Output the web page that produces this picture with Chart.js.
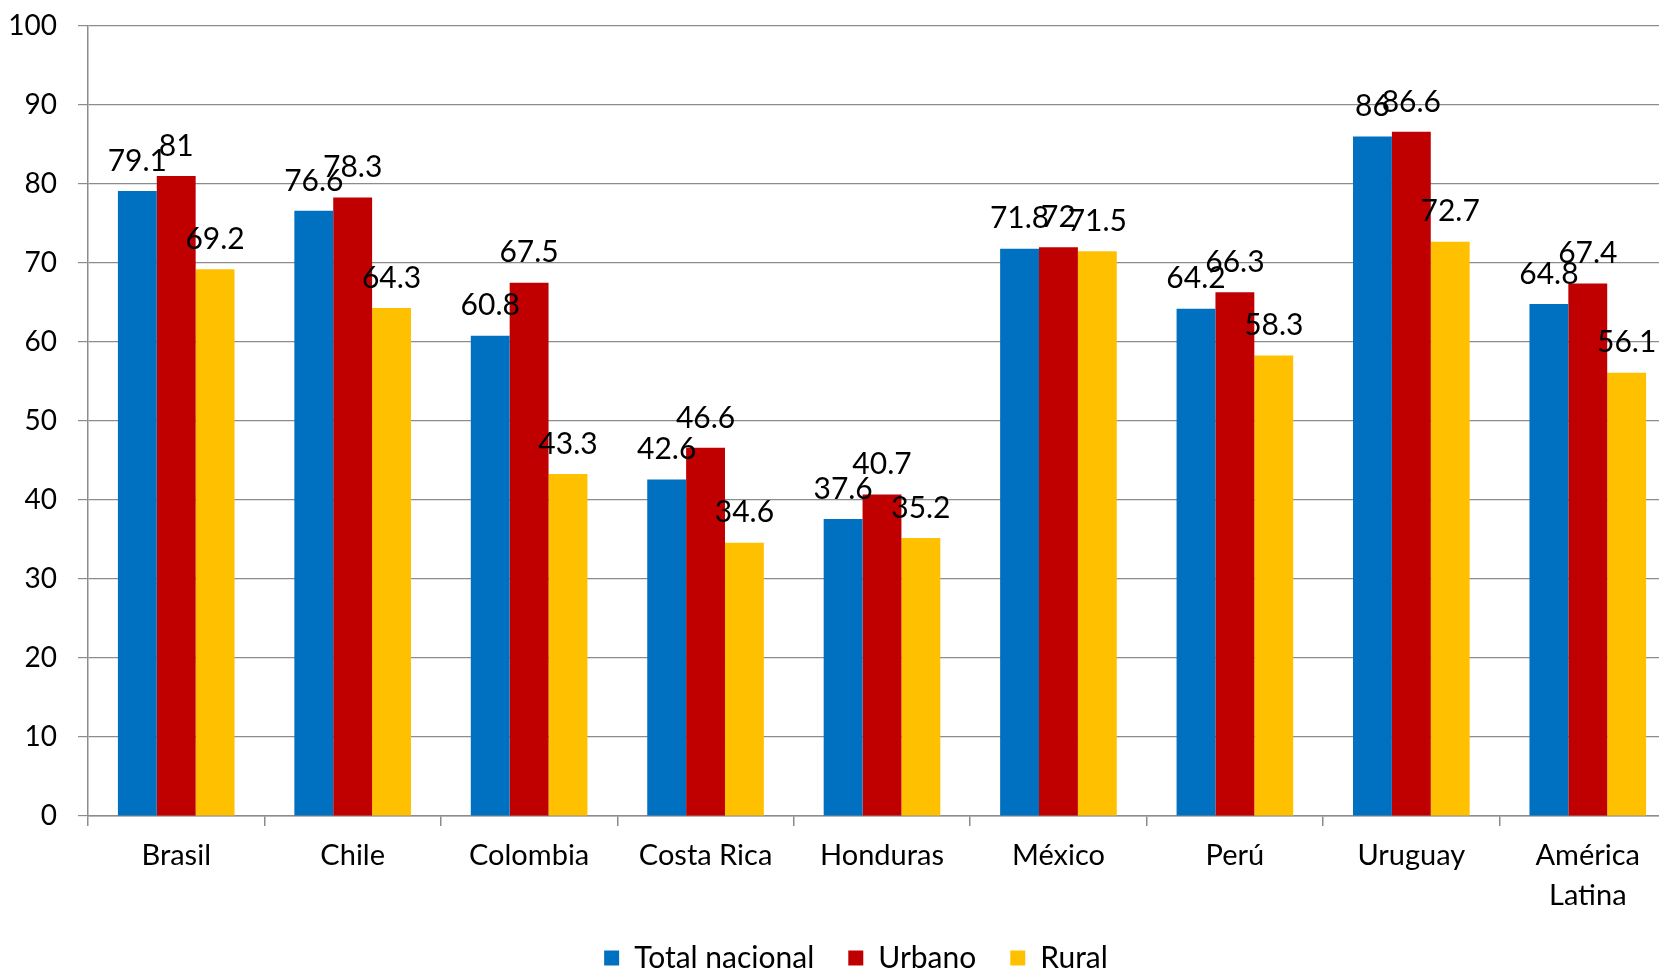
<!DOCTYPE html>
<html>
<head>
<meta charset="utf-8">
<script src="https://cdn.jsdelivr.net/npm/chart.js@4/dist/chart.umd.min.js"></script>
<style>
html,body{margin:0;padding:0;background:#fff;overflow:hidden;}
#wrap{width:1659px;height:971px;overflow:hidden;position:relative;}
canvas{display:block;}
</style>
</head>
<body>
<div id="wrap"><canvas id="c" width="1680" height="971"></canvas></div>
<script>
const categories = ["Brasil","Chile","Colombia","Costa Rica","Honduras","México","Perú","Uruguay",["América","Latina"]];
const totalNacional = [79.1, 76.6, 60.8, 42.6, 37.6, 71.8, 64.2, 86, 64.8];
const urbano = [81, 78.3, 67.5, 46.6, 40.7, 72, 66.3, 86.6, 67.4];
const rural = [69.2, 64.3, 43.3, 34.6, 35.2, 71.5, 58.3, 72.7, 56.1];
const seriesNames = ["Total nacional","Urbano","Rural"];

const FONT = "Lato, 'Open Sans', sans-serif";
const gridColor = "#8c8c8c";

const labelPlugin = {
  id: 'barLabels',
  afterDatasetsDraw(chart) {
    const ctx = chart.ctx;
    ctx.save();
    ctx.font = "30px " + FONT;
    ctx.fillStyle = "#000";
    ctx.textAlign = "center";
    ctx.textBaseline = "middle";
    chart.data.datasets.forEach((ds, di) => {
      const meta = chart.getDatasetMeta(di);
      meta.data.forEach((bar, i) => {
        ctx.fillText(String(ds.data[i]), bar.x, bar.y - 30);
      });
    });
    ctx.restore();
  }
};

const legendShift = {
  id: 'legendShift',
  afterLayout(chart) {
    const lg = chart.legend;
    if (!lg) return;
    const target = 856;
    const cur = (lg.left + lg.right) / 2;
    const s = target - cur;
    lg.left += s; lg.right += s;
    if (lg.legendHitBoxes) lg.legendHitBoxes.forEach(h => { h.left += s; });
  }
};

new Chart(document.getElementById('c'), {
  type: 'bar',
  data: {
    labels: categories,
    datasets: [
      {label: seriesNames[0], data: totalNacional, backgroundColor: "#0070C0"},
      {label: seriesNames[1], data: urbano, backgroundColor: "#C00000"},
      {label: seriesNames[2], data: rural, backgroundColor: "#FFC000"}
    ]
  },
  options: {
    responsive: false,
    animation: false,
    devicePixelRatio: 1,
    layout: {padding: {top: 26, right: 4, left: 0, bottom: -12}},
    datasets: {bar: {categoryPercentage: 0.661, barPercentage: 1.0, borderWidth: 0}},
    scales: {
      x: {
        grid: {display: true, drawOnChartArea: false, drawTicks: true, tickLength: 10, color: gridColor, lineWidth: 1.5},
        border: {display: true, color: gridColor, width: 1.5},
        ticks: {color: "#000", font: {family: FONT, size: 29, lineHeight: 1.38}, padding: 10, maxRotation: 0, autoSkip: false},
        afterFit(scale) { scale.height = 93; scale.paddingLeft = 0; scale.paddingRight = 0; }
      },
      y: {
        min: 0, max: 100,
        grid: {display: true, drawOnChartArea: true, drawTicks: true, tickLength: 10, color: gridColor, lineWidth: 1.2},
        border: {display: true, color: gridColor, width: 1.5},
        ticks: {stepSize: 10, color: "#000", font: {family: FONT, size: 28}, padding: 21},
        afterFit(scale) { scale.width = 88; scale.paddingTop = 0; scale.paddingBottom = 0; }
      }
    },
    plugins: {
      legend: {
        position: 'bottom',
        labels: {boxWidth: 15, boxHeight: 15, padding: 34, color: "#000", font: {family: FONT, size: 30}}
      },
      tooltip: {enabled: false}
    }
  },
  plugins: [labelPlugin, legendShift]
});
</script>
</body>
</html>
